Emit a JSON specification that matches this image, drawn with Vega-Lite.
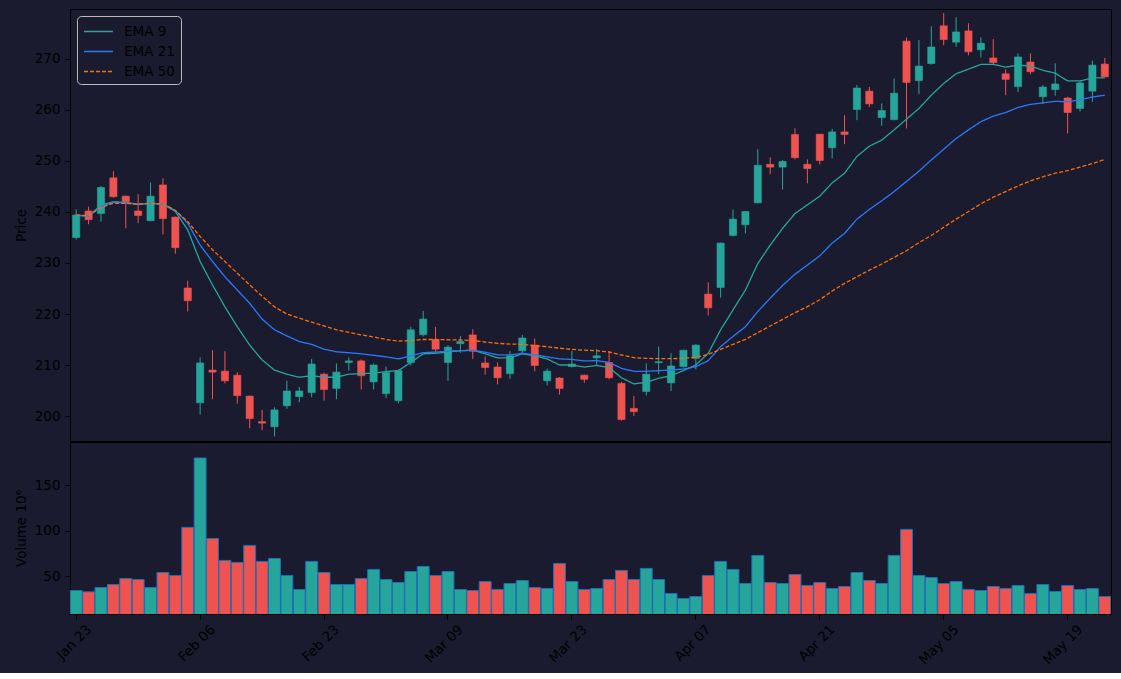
{
"$schema": "https://vega.github.io/schema/vega-lite/v6.json",
"background": "#1b1b2f",
"padding": {"left": 13, "top": 8, "right": 10, "bottom": 5},
"spacing": -1,
"config": {
  "view": {"stroke": "#000000", "strokeWidth": 1, "fill": "#1b1b2f"},
  "axis": {"domainColor": "#000000", "tickColor": "#000000", "labelColor": "#000000", "titleColor": "#000000", "labelFont": "DejaVu Sans", "titleFont": "DejaVu Sans", "labelFontSize": 13.5, "titleFontSize": 13.5, "titleFontWeight": "normal", "grid": false, "tickSize": 5, "labelPadding": 5, "labelOverlap": false, "domain": true},
  "axisY": {"minExtent": 37, "maxExtent": 37, "titlePadding": 5},
  "legend": {"labelFont": "DejaVu Sans", "labelFontSize": 13.5, "labelColor": "#000000"}
},
"datasets": {"c": [
{"date":"2026-01-23","open":235.0,"high":240.5,"low":234.6,"close":239.4,"volume":34.2,"ema9":239.4,"ema21":239.4,"ema50":239.4},
{"date":"2026-01-26","open":240.2,"high":241.05,"low":237.6,"close":238.5,"volume":32.7,"ema9":239.1,"ema21":239.2,"ema50":239.3},
{"date":"2026-01-27","open":239.7,"high":245.1,"low":238.1,"close":244.8,"volume":37.5,"ema9":241.4,"ema21":241.1,"ema50":240.9},
{"date":"2026-01-28","open":246.7,"high":248.0,"low":242.8,"close":243.0,"volume":40.8,"ema9":242.0,"ema21":241.9,"ema50":241.7},
{"date":"2026-01-29","open":243.1,"high":243.2,"low":236.8,"close":242.05,"volume":47.4,"ema9":241.9,"ema21":241.8,"ema50":241.7},
{"date":"2026-01-30","open":240.2,"high":243.5,"low":237.8,"close":239.3,"volume":46.3,"ema9":241.5,"ema21":241.5,"ema50":241.5},
{"date":"2026-02-02","open":238.3,"high":245.8,"low":238.2,"close":243.1,"volume":37.5,"ema9":241.7,"ema21":241.7,"ema50":241.7},
{"date":"2026-02-03","open":245.3,"high":246.6,"low":235.6,"close":238.7,"volume":54.0,"ema9":241.5,"ema21":241.6,"ema50":241.6},
{"date":"2026-02-04","open":239.0,"high":239.1,"low":231.8,"close":233.0,"volume":50.7,"ema9":240.1,"ema21":240.3,"ema50":240.3},
{"date":"2026-02-05","open":225.1,"high":226.5,"low":220.5,"close":222.6,"volume":103.7,"ema9":236.5,"ema21":237.8,"ema50":238.1},
{"date":"2026-02-06","open":202.6,"high":211.5,"low":200.3,"close":210.4,"volume":180.1,"ema9":230.3,"ema21":233.5,"ema50":235.2},
{"date":"2026-02-09","open":209.0,"high":212.9,"low":203.3,"close":208.6,"volume":91.5,"ema9":225.7,"ema21":230.3,"ema50":232.6},
{"date":"2026-02-10","open":208.8,"high":212.7,"low":206.4,"close":206.9,"volume":67.3,"ema9":221.4,"ema21":227.3,"ema50":230.3},
{"date":"2026-02-11","open":208.0,"high":208.6,"low":202.4,"close":204.0,"volume":65.1,"ema9":217.5,"ema21":224.7,"ema50":228.0},
{"date":"2026-02-12","open":203.9,"high":204.0,"low":197.6,"close":199.5,"volume":83.8,"ema9":213.9,"ema21":222.1,"ema50":225.7},
{"date":"2026-02-13","open":198.9,"high":201.2,"low":197.2,"close":198.6,"volume":66.2,"ema9":211.0,"ema21":219.0,"ema50":223.5},
{"date":"2026-02-17","open":197.9,"high":201.7,"low":196.0,"close":201.2,"volume":69.5,"ema9":209.0,"ema21":216.9,"ema50":221.4},
{"date":"2026-02-18","open":202.0,"high":206.9,"low":201.4,"close":204.9,"volume":50.7,"ema9":208.2,"ema21":215.7,"ema50":220.0},
{"date":"2026-02-19","open":203.8,"high":205.7,"low":202.7,"close":204.9,"volume":35.3,"ema9":207.6,"ema21":214.6,"ema50":219.2},
{"date":"2026-02-20","open":204.6,"high":211.2,"low":203.7,"close":210.2,"volume":66.2,"ema9":207.9,"ema21":214.05,"ema50":218.4},
{"date":"2026-02-23","open":208.2,"high":208.5,"low":203.0,"close":205.2,"volume":54.0,"ema9":207.6,"ema21":213.1,"ema50":217.65},
{"date":"2026-02-24","open":205.4,"high":210.3,"low":203.3,"close":208.6,"volume":40.8,"ema9":207.6,"ema21":212.6,"ema50":216.9},
{"date":"2026-02-25","open":210.5,"high":211.5,"low":208.9,"close":210.8,"volume":40.8,"ema9":208.2,"ema21":212.4,"ema50":216.4},
{"date":"2026-02-26","open":210.8,"high":211.1,"low":205.2,"close":207.9,"volume":47.4,"ema9":208.3,"ema21":212.2,"ema50":215.9},
{"date":"2026-02-27","open":206.7,"high":210.3,"low":205.2,"close":210.0,"volume":57.4,"ema9":208.4,"ema21":211.9,"ema50":215.5},
{"date":"2026-03-02","open":204.4,"high":209.7,"low":203.5,"close":208.5,"volume":46.3,"ema9":208.7,"ema21":211.6,"ema50":215.0},
{"date":"2026-03-03","open":203.0,"high":209.15,"low":202.5,"close":208.9,"volume":43.0,"ema9":208.9,"ema21":211.2,"ema50":214.7},
{"date":"2026-03-04","open":210.5,"high":217.5,"low":209.9,"close":216.9,"volume":55.1,"ema9":210.5,"ema21":211.8,"ema50":214.8},
{"date":"2026-03-05","open":215.95,"high":220.6,"low":215.6,"close":219.0,"volume":60.7,"ema9":212.2,"ema21":212.4,"ema50":215.0},
{"date":"2026-03-06","open":215.0,"high":217.45,"low":212.6,"close":213.1,"volume":50.7,"ema9":212.3,"ema21":212.55,"ema50":215.0},
{"date":"2026-03-09","open":210.5,"high":213.9,"low":206.9,"close":213.5,"volume":55.1,"ema9":212.55,"ema21":212.7,"ema50":214.95},
{"date":"2026-03-10","open":214.2,"high":215.7,"low":212.4,"close":214.6,"volume":35.3,"ema9":212.8,"ema21":212.8,"ema50":214.9},
{"date":"2026-03-11","open":215.9,"high":217.0,"low":211.2,"close":212.7,"volume":34.2,"ema9":212.9,"ema21":212.9,"ema50":214.8},
{"date":"2026-03-12","open":210.4,"high":211.7,"low":208.1,"close":209.5,"volume":44.1,"ema9":212.2,"ema21":212.5,"ema50":214.5},
{"date":"2026-03-13","open":209.6,"high":210.5,"low":206.2,"close":207.5,"volume":35.3,"ema9":211.4,"ema21":212.0,"ema50":214.25},
{"date":"2026-03-16","open":208.3,"high":212.75,"low":207.3,"close":211.8,"volume":41.9,"ema9":211.4,"ema21":211.96,"ema50":214.1},
{"date":"2026-03-17","open":212.8,"high":215.9,"low":212.2,"close":215.3,"volume":45.2,"ema9":212.2,"ema21":212.3,"ema50":214.05},
{"date":"2026-03-18","open":213.9,"high":215.2,"low":208.8,"close":209.9,"volume":37.5,"ema9":211.8,"ema21":212.0,"ema50":213.8},
{"date":"2026-03-19","open":206.9,"high":209.3,"low":206.0,"close":208.8,"volume":36.4,"ema9":211.2,"ema21":211.6,"ema50":213.6},
{"date":"2026-03-20","open":207.45,"high":207.65,"low":204.2,"close":205.4,"volume":64.0,"ema9":210.0,"ema21":211.2,"ema50":213.3},
{"date":"2026-03-23","open":209.7,"high":212.8,"low":209.5,"close":210.2,"volume":44.1,"ema9":210.0,"ema21":211.1,"ema50":213.05},
{"date":"2026-03-24","open":208.0,"high":208.1,"low":206.5,"close":207.2,"volume":35.3,"ema9":209.6,"ema21":210.8,"ema50":212.9},
{"date":"2026-03-25","open":211.4,"high":213.1,"low":210.0,"close":211.8,"volume":36.4,"ema9":209.9,"ema21":210.85,"ema50":212.8},
{"date":"2026-03-26","open":210.5,"high":212.7,"low":207.2,"close":207.5,"volume":46.3,"ema9":209.5,"ema21":210.5,"ema50":212.55},
{"date":"2026-03-27","open":206.4,"high":206.7,"low":199.1,"close":199.3,"volume":56.3,"ema9":207.5,"ema21":209.35,"ema50":211.96},
{"date":"2026-03-30","open":201.5,"high":203.9,"low":200.0,"close":200.85,"volume":46.3,"ema9":206.3,"ema21":208.76,"ema50":211.44},
{"date":"2026-03-31","open":204.8,"high":210.3,"low":204.0,"close":208.2,"volume":58.5,"ema9":206.6,"ema21":208.76,"ema50":211.31},
{"date":"2026-04-01","open":210.46,"high":213.6,"low":208.2,"close":210.65,"volume":46.3,"ema9":207.4,"ema21":208.89,"ema50":211.24},
{"date":"2026-04-02","open":206.5,"high":212.3,"low":204.9,"close":209.8,"volume":30.9,"ema9":207.9,"ema21":209.02,"ema50":211.24},
{"date":"2026-04-06","open":209.7,"high":213.0,"low":209.5,"close":212.9,"volume":25.4,"ema9":208.9,"ema21":209.22,"ema50":211.31},
{"date":"2026-04-07","open":211.3,"high":214.05,"low":209.15,"close":213.9,"volume":27.6,"ema9":210.0,"ema21":209.67,"ema50":211.5},
{"date":"2026-04-08","open":223.9,"high":226.2,"low":219.7,"close":221.2,"volume":50.7,"ema9":212.3,"ema21":210.85,"ema50":212.09},
{"date":"2026-04-09","open":225.2,"high":234.0,"low":223.2,"close":233.9,"volume":66.2,"ema9":216.9,"ema21":213.6,"ema50":213.07},
{"date":"2026-04-10","open":235.4,"high":240.5,"low":235.2,"close":238.6,"volume":57.4,"ema9":220.8,"ema21":215.6,"ema50":214.05},
{"date":"2026-04-13","open":237.5,"high":240.2,"low":235.8,"close":240.1,"volume":41.9,"ema9":224.7,"ema21":217.5,"ema50":215.03},
{"date":"2026-04-14","open":241.8,"high":252.3,"low":241.7,"close":249.15,"volume":72.8,"ema9":229.9,"ema21":220.5,"ema50":216.34},
{"date":"2026-04-15","open":249.35,"high":250.7,"low":247.4,"close":248.8,"volume":43.0,"ema9":233.5,"ema21":223.1,"ema50":217.65},
{"date":"2026-04-16","open":248.8,"high":250.2,"low":244.4,"close":249.9,"volume":41.9,"ema9":236.8,"ema21":225.6,"ema50":218.95},
{"date":"2026-04-17","open":255.2,"high":256.4,"low":250.3,"close":250.65,"volume":51.8,"ema9":239.7,"ema21":227.8,"ema50":220.26},
{"date":"2026-04-20","open":249.35,"high":250.3,"low":245.6,"close":248.5,"volume":39.7,"ema9":241.4,"ema21":229.6,"ema50":221.44},
{"date":"2026-04-21","open":255.25,"high":255.3,"low":249.35,"close":250.1,"volume":43.0,"ema9":243.1,"ema21":231.4,"ema50":222.8},
{"date":"2026-04-22","open":252.6,"high":256.3,"low":250.5,"close":255.7,"volume":36.4,"ema9":245.7,"ema21":233.9,"ema50":224.5},
{"date":"2026-04-23","open":255.7,"high":259.0,"low":253.3,"close":255.2,"volume":38.6,"ema9":247.6,"ema21":235.8,"ema50":226.0},
{"date":"2026-04-24","open":260.1,"high":264.9,"low":258.0,"close":264.3,"volume":54.0,"ema9":250.9,"ema21":238.6,"ema50":227.3},
{"date":"2026-04-27","open":263.7,"high":264.5,"low":260.6,"close":261.2,"volume":45.2,"ema9":252.9,"ema21":240.5,"ema50":228.6},
{"date":"2026-04-28","open":258.5,"high":261.3,"low":256.9,"close":259.9,"volume":41.9,"ema9":254.1,"ema21":242.2,"ema50":229.8},
{"date":"2026-04-29","open":258.1,"high":266.2,"low":258.0,"close":263.3,"volume":72.8,"ema9":256.1,"ema21":244.0,"ema50":231.1},
{"date":"2026-04-30","open":273.5,"high":274.2,"low":256.4,"close":265.4,"volume":101.5,"ema9":258.2,"ema21":246.0,"ema50":232.4},
{"date":"2026-05-01","open":265.75,"high":273.7,"low":263.1,"close":268.6,"volume":50.7,"ema9":260.3,"ema21":248.0,"ema50":234.0},
{"date":"2026-05-04","open":269.1,"high":276.4,"low":268.9,"close":272.35,"volume":48.5,"ema9":262.9,"ema21":250.2,"ema50":235.4},
{"date":"2026-05-05","open":276.5,"high":279.0,"low":272.7,"close":273.8,"volume":41.9,"ema9":265.2,"ema21":252.3,"ema50":237.0},
{"date":"2026-05-06","open":273.3,"high":278.2,"low":272.4,"close":275.3,"volume":44.1,"ema9":267.1,"ema21":254.4,"ema50":238.6},
{"date":"2026-05-07","open":275.5,"high":277.0,"low":270.7,"close":271.4,"volume":35.3,"ema9":268.0,"ema21":256.1,"ema50":240.1},
{"date":"2026-05-08","open":271.8,"high":274.25,"low":270.3,"close":273.1,"volume":34.2,"ema9":268.95,"ema21":257.7,"ema50":241.6},
{"date":"2026-05-11","open":270.2,"high":273.9,"low":268.8,"close":269.3,"volume":38.6,"ema9":268.95,"ema21":258.8,"ema50":242.9},
{"date":"2026-05-12","open":267.1,"high":268.0,"low":262.9,"close":266.0,"volume":36.4,"ema9":268.4,"ema21":259.5,"ema50":244.0},
{"date":"2026-05-13","open":264.6,"high":271.1,"low":263.5,"close":270.4,"volume":39.7,"ema9":268.8,"ema21":260.5,"ema50":245.1},
{"date":"2026-05-14","open":269.4,"high":271.1,"low":267.0,"close":267.5,"volume":30.9,"ema9":268.6,"ema21":261.1,"ema50":246.1},
{"date":"2026-05-15","open":262.6,"high":264.9,"low":261.2,"close":264.5,"volume":40.8,"ema9":267.8,"ema21":261.4,"ema50":246.9},
{"date":"2026-05-18","open":264.0,"high":269.15,"low":262.8,"close":265.1,"volume":33.1,"ema9":267.2,"ema21":261.7,"ema50":247.6},
{"date":"2026-05-19","open":262.35,"high":262.6,"low":255.4,"close":259.5,"volume":39.7,"ema9":265.7,"ema21":261.6,"ema50":248.1},
{"date":"2026-05-20","open":260.3,"high":265.7,"low":259.7,"close":265.3,"volume":35.3,"ema9":265.7,"ema21":262.0,"ema50":248.8},
{"date":"2026-05-21","open":263.7,"high":269.7,"low":261.6,"close":268.8,"volume":36.4,"ema9":266.3,"ema21":262.55,"ema50":249.5},
{"date":"2026-05-22","open":269.0,"high":270.2,"low":266.4,"close":266.5,"volume":27.6,"ema9":266.3,"ema21":262.9,"ema50":250.3}
]},
"vconcat": [
{
  "width": 1041, "height": 432,
  "data": {"name": "c"},
  "encoding": {"x": {"field": "date", "type": "ordinal", "scale": {"paddingInner": 0, "paddingOuter": 0}, "axis": null}},
  "layer": [
    {"mark": {"type": "rule", "strokeWidth": 1},
     "encoding": {
       "y": {"field": "low", "type": "quantitative", "title": "Price", "scale": {"domain": [195.1, 279.8], "nice": false, "zero": false}, "axis": {"values": [200, 210, 220, 230, 240, 250, 260, 270]}},
       "y2": {"field": "high"},
       "color": {"condition": {"test": "datum.close >= datum.open", "value": "#26a69a"}, "value": "#ef5350"}
     }},
    {"mark": {"type": "bar", "width": {"band": 0.58}, "strokeWidth": 0.6},
     "encoding": {
       "y": {"field": "open", "type": "quantitative", "title": "Price"},
       "y2": {"field": "close"},
       "color": {"condition": {"test": "datum.close >= datum.open", "value": "#26a69a"}, "value": "#ef5350"},
       "stroke": {"condition": {"test": "datum.close >= datum.open", "value": "#26a69a"}, "value": "#ef5350"}
     }},
    {"transform": [{"fold": ["ema9", "ema21", "ema50"], "as": ["series", "value"]}],
     "mark": {"type": "line", "strokeWidth": 1.3},
     "encoding": {
       "y": {"field": "value", "type": "quantitative", "title": "Price"},
       "color": {"field": "series", "type": "nominal", "scale": {"domain": ["ema9", "ema21", "ema50"], "range": ["#26a69a", "#2979ff", "#ff6d00"]},
         "legend": {"title": null, "orient": "top-left", "offset": 7, "padding": 6, "fillColor": "#1b1b2f", "strokeColor": "#bbbbbb", "cornerRadius": 4, "symbolType": "M-1,0H2.4", "symbolSize": 289, "symbolStrokeWidth": 1.5, "labelOffset": 22, "rowPadding": 4, "labelExpr": "{'ema9': 'EMA 9', 'ema21': 'EMA 21', 'ema50': 'EMA 50'}[datum.label]"}},
       "strokeDash": {"field": "series", "type": "nominal", "scale": {"domain": ["ema9", "ema21", "ema50"], "range": [[1, 0], [1, 0], [4, 2]]},
         "legend": {"title": null, "orient": "top-left", "offset": 7, "padding": 6, "fillColor": "#1b1b2f", "strokeColor": "#bbbbbb", "cornerRadius": 4, "symbolType": "M-1,0H2.4", "symbolSize": 289, "symbolStrokeWidth": 1.5, "labelOffset": 22, "rowPadding": 4, "labelExpr": "{'ema9': 'EMA 9', 'ema21': 'EMA 21', 'ema50': 'EMA 50'}[datum.label]"}}
     }}
  ]
},
{
  "width": 1041, "height": 172,
  "data": {"name": "c"},
  "mark": {"type": "bar", "width": {"band": 0.96}, "clip": true, "stroke": "#1f6fb8", "strokeWidth": 1},
  "encoding": {
    "x": {"field": "date", "type": "ordinal", "title": null, "scale": {"paddingInner": 0, "paddingOuter": 0},
      "axis": {"values": ["2026-01-23", "2026-02-06", "2026-02-23", "2026-03-09", "2026-03-23", "2026-04-07", "2026-04-21", "2026-05-05", "2026-05-19"], "labelExpr": "utcFormat(toDate(datum.value), '%b %d')", "labelAngle": -45, "labelAlign": "right", "labelBaseline": "middle", "labelOffset": 13, "labelPadding": 8}},
    "y": {"field": "volume", "type": "quantitative", "title": "Volume  10⁶", "scale": {"domain": [8.3, 197.7], "nice": false, "zero": false}, "axis": {"values": [50, 100, 150]}},
    "color": {"condition": {"test": "datum.close >= datum.open", "value": "#26a69a"}, "value": "#ef5350"}
  }
}
]
}
